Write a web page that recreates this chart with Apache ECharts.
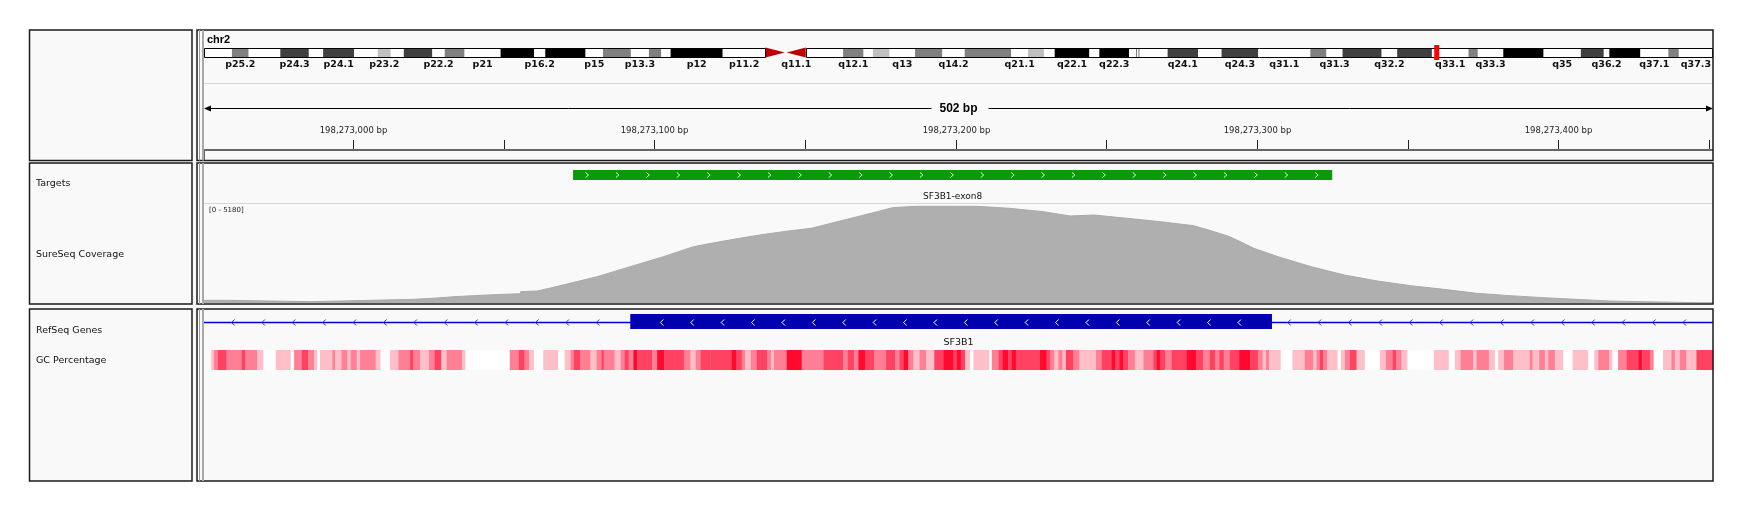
<!DOCTYPE html>
<html><head><meta charset="utf-8">
<script src="https://cdn.jsdelivr.net/npm/echarts@6/dist/echarts.min.js"></script>
<style>html,body{margin:0;padding:0;background:#fff}#c{width:1744px;height:515px}</style>
</head><body><div id="c"></div>
<script>
// ---------- data ----------
const chromName = 'chr2';
const chromLengthMb = 243.2;
const locusMb = 198.27;
// [name, startMb, endMb, stain]
const ideoBands = [
 ['p25.3',0,4.5,'gneg'],['p25.2',4.5,7.2,'gpos50'],['p25.1',7.2,12.3,'gneg'],['p24.3',12.3,16.9,'gpos75'],
 ['p24.2',16.9,19.2,'gneg'],['p24.1',19.2,24.2,'gpos75'],['p23.3',24.2,28.0,'gneg'],['p23.2',28.0,30.1,'gpos25'],
 ['p23.1',30.1,32.2,'gneg'],['p22.3',32.2,36.8,'gpos75'],['p22.2',36.8,38.8,'gneg'],['p22.1',38.8,42.0,'gpos50'],
 ['p21',42.0,47.8,'gneg'],['p16.3',47.8,53.2,'gpos100'],['p16.2',53.2,55.0,'gneg'],['p16.1',55.0,61.5,'gpos100'],
 ['p15',61.5,64.3,'gneg'],['p14',64.3,68.8,'gpos50'],['p13.3',68.8,71.7,'gneg'],['p13.2',71.7,73.7,'gpos50'],
 ['p13.1',73.7,75.2,'gneg'],['p12',75.2,83.6,'gpos100'],['p11.2',83.6,90.5,'gneg'],['p11.1',90.5,93.6,'acen'],
 ['q11.1',93.9,97.0,'acen'],['q11.2',97.0,103.0,'gneg'],['q12.1',103.0,106.3,'gpos50'],['q12.2',106.3,107.8,'gneg'],
 ['q12.3',107.8,110.5,'gpos25'],['q13',110.5,114.6,'gneg'],['q14.1',114.6,119.0,'gpos50'],['q14.2',119.0,122.6,'gneg'],
 ['q14.3',122.6,130.1,'gpos50'],['q21.1',130.1,132.8,'gneg'],['q21.2',132.8,135.4,'gpos25'],['q21.3',135.4,137.1,'gneg'],
 ['q22.1',137.1,142.7,'gpos100'],['q22.2',142.7,144.3,'gneg'],['q22.3',144.3,149.1,'gpos100'],['q23.1',149.1,150.2,'gneg'],
 ['q23.2',150.2,150.4,'gpos50'],['q23.2b',150.4,150.6,'gneg'],['q23.2c',150.6,150.8,'gpos50'],['q23.3',150.8,155.3,'gneg'],
 ['q24.1',155.3,160.2,'gpos75'],['q24.2',160.2,164.0,'gneg'],
 ['q24.3',164.0,169.9,'gpos75'],['q31.1',169.9,178.3,'gneg'],['q31.2',178.3,180.9,'gpos50'],['q31.3',180.9,183.5,'gneg'],
 ['q32.1',183.5,189.8,'gpos75'],['q32.2',189.8,192.3,'gneg'],['q32.3',192.3,197.9,'gpos75'],['q33.1',197.9,203.8,'gneg'],
 ['q33.2',203.8,205.3,'gpos50'],['q33.3',205.3,209.4,'gneg'],['q34',209.4,215.9,'gpos100'],['q35',215.9,221.9,'gneg'],
 ['q36.1',221.9,225.6,'gpos75'],['q36.2',225.6,226.5,'gneg'],['q36.3',226.5,231.5,'gpos100'],['q37.1',231.5,236.0,'gneg'],
 ['q37.2',236.0,237.7,'gpos50'],['q37.3',237.7,243.2,'gneg']
];
const ideoLabels = ['p25.2','p24.3','p24.1','p23.2','p22.2','p21','p16.2','p15','p13.3','p12','p11.2',
 'q11.1','q12.1','q13','q14.2','q21.1','q22.1','q22.3','q24.1','q24.3','q31.1','q31.3','q32.2',
 'q33.1','q33.3','q35','q36.2','q37.1','q37.3'];

const regionStart = 198272950.5;
const regionEnd = 198273451.4;
const regionLabel = '502 bp';
const rulerTicks = [198273000,198273050,198273100,198273150,198273200,198273250,198273300,198273350,198273400,198273450];
const rulerLabels = [198273000,198273100,198273200,198273300,198273400];

const trackNames = ['Targets','SureSeq Coverage','RefSeq Genes','GC Percentage'];
const targets = [[198273073,198273325,'SF3B1-exon8']];

const coverageMax = 5180;
const coverage = [
 [198272950.5,140],[198272958,140],[198272958,70],[198272986,70],[198272986,140],[198273006,140],
 [198273006,192],[198273020,192],[198273020,262],[198273028,262],[198273028,331],[198273033.5,331],
 [198273033.5,419],[198273044.5,419],[198273044.5,488],[198273055.6,488],[198273055.6,593],[198273061,628],
 [198273066,800],[198273072,1029],[198273081,1378],[198273092,1901],[198273103,2424],[198273113,2947],
 [198273120,3157],[198273128,3380],[198273135,3558],[198273144,3760],[198273152,3906],[198273163,4343],
 [198273174,4779],[198273179,4988],[198273187,5058],[198273207,5058],[198273218,4953],[198273229,4779],
 [198273238,4552],[198273246,4604],[198273257,4430],[198273268,4255],[198273279,4046],[198273285,3767],
 [198273291,3471],[198273299,2860],[198273307,2424],[198273318,1901],[198273329,1465],[198273340,1151],
 [198273351,907],[198273362,715],[198273373,506],[198273384,384],[198273395,279],[198273406,192],
 [198273417,105],[198273428,70],[198273446,17],[198273451.4,17]
];

const geneName = 'SF3B1';
const geneSpan = [198254508, 198299771];
const geneExons = [[198273092, 198273305]];

// GC percentage windows: [startOffset, endOffset, gcPercent], offsets in bp from regionStart
const gcSegments = [
[2.4,3.3,45],[3.3,4.6,55],[4.6,7.5,65],[7.5,12.5,55],[12.5,13.6,65],[13.6,17.7,55],[17.7,19.7,45],[19.7,23.8,35],[23.8,28.8,45],[28.8,29.9,35],
[29.9,32.4,55],[32.4,34.6,65],[34.6,36.5,55],[36.5,37.6,45],[37.6,38.5,35],[38.5,42.6,45],[42.6,43.5,55],[43.5,45.6,45],[45.6,47.6,55],[47.6,48.7,45],
[48.7,50.7,55],[50.7,51.8,45],[51.8,57,55],[57,58.6,45],[58.6,61.7,35],[61.7,64.5,45],[64.5,68.4,55],[68.4,69.5,65],[69.5,71.7,55],[71.7,74.7,45],
[74.7,76.5,55],[76.5,78.8,65],[78.8,80.5,45],[80.5,85.7,55],[85.7,86.8,45],[86.8,101.5,35],[101.5,104.5,55],[104.5,106.4,65],[106.4,107.9,55],[107.9,109.5,45],
[109.5,112.6,35],[112.6,117.5,45],[117.5,119.7,35],[119.7,121.7,45],[121.7,122.8,55],[122.8,124.8,65],[124.8,128.3,55],[128.3,130.3,45],[130.3,131.9,55],[131.9,132.7,65],
[132.7,136.3,55],[136.3,138.3,45],[138.3,139.6,55],[139.6,141,65],[141,142.5,55],[142.5,143.8,75],[143.8,148.8,65],[148.8,150.4,55],[150.4,152.7,75],[152.7,159.3,65],
[159.3,161.5,55],[161.5,163.2,45],[163.2,164.8,55],[164.8,168,65],
[168,175.2,65],[175.2,176.6,75],[176.6,178.5,65],[178.5,179.6,55],[179.6,181.5,45],[181.5,183.5,55],[183.5,187,65],[187,188.2,55],[188.2,189.2,45],[189.2,193.4,55],
[193.4,198.4,75],[198.4,205.6,55],[205.6,212.2,65],[212.2,213.7,55],[213.7,215.8,65],[215.8,217.2,55],[217.2,219.4,75],[219.4,222.4,65],[222.4,226.4,55],[226.4,229.4,65],
[229.4,230.8,55],[230.8,232.2,65],[232.2,233.8,75],[233.8,235.5,55],[235.5,237.5,45],[237.5,239.7,55],[239.7,242.4,45],[242.4,245.4,65],[245.4,248.8,75],[248.8,249.9,65],
[249.9,251.2,75],[251.2,252.6,65],[252.6,254.3,45],[254.3,255.4,35],[255.4,260.7,45],[260.7,261.5,35],[261.5,263.7,55],[263.7,265.1,65],[265.1,267,75],[267,268.1,65],
[268.1,269.5,75],[269.5,277.5,65],[277.5,279.7,75],[279.7,280.8,65],[280.8,282.3,55],[282.3,283.6,45],[283.6,285,55],[285,286.1,45],[286.1,288.6,65],[288.6,290.6,55],
[290.6,296.1,45],[296.1,298,55],[298,301.3,65],[301.3,302.4,75],[302.4,303.8,65],[303.8,305.2,75],[305.2,306.8,65],[306.8,309,55],[309,311.8,45],[311.8,315.1,55],
[315.1,316.2,65],[316.2,317.3,75],[317.3,319,65],[319,321.2,55],[321.2,326.2,65],[326.2,329.3,75],[329.3,331.7,65],[331.7,333.9,55],
[333.9,335.6,65],[335.6,337,55],[337,338.5,65],[338.5,340.5,55],[340.5,343.6,65],[343.6,347.2,75],[347.2,349.9,65],[349.9,351.4,55],[351.4,352.5,45],[352.5,353.6,55],
[353.6,357.4,45],[357.4,361.3,35],[361.3,365.4,45],[365.4,368.2,55],[368.2,369.3,45],[369.3,370.4,55],[370.4,371.5,65],[371.5,372.8,55],[372.8,376.3,45],[376.3,377.4,35],
[377.4,378.7,45],[378.7,380.4,55],[380.4,382.6,65],[382.6,385.3,45],[385.3,390.3,35],[390.3,392.3,45],[392.3,394.5,55],[394.5,395.8,65],[395.8,397.5,55],[397.5,399.5,45],
[399.5,408.2,35],[408.2,413.2,45],[413.2,415.2,35],[415.2,417.1,45],[417.1,421.3,55],[421.3,422.4,45],[422.4,426.5,55],[426.5,428.5,45],[428.5,429.6,35],[429.6,431.5,45],
[431.5,434.6,55],[434.6,440.1,45],[440.1,441,55],[441,443.2,45],[443.2,445.1,55],[445.1,446.2,45],[446.2,448.4,55],[448.4,451.2,45],[451.2,454.3,35],[454.3,459.5,45],
[459.5,461.5,35],[461.5,462.8,45],[462.8,466.4,55],[466.4,467.5,45],[467.5,469.4,35],[469.4,472.2,55],[472.2,476.1,65],[476.1,477.4,75],[477.4,480.1,65],[480.1,481.2,55],
[481.2,484.3,35],[484.3,487.1,45],[487.1,488.2,55],[488.2,489.9,45],[489.9,492.1,55],[492.1,495.4,45],[495.4,500.9,65]
];

// ---------- styles ----------
const stainColor = {gneg:'#ffffff', gpos25:'#c0c0c0', gpos50:'#808080', gpos75:'#404040', gpos100:'#000000'};
function gcColor(v){ if(v<40) return '#ffffff'; if(v<50) return '#ffbfc8'; if(v<60) return '#ff8094'; if(v<70) return '#ff4262'; return '#ff0a2e'; }
const DL = 204, DW = 1509;
const FONT = '"DejaVu Sans", sans-serif';

const chart = echarts.init(document.getElementById('c'), null, {renderer:'canvas', width:1744, height:515});

const grids = [
  {left:DL, width:DW, top:48, height:9},
  {left:DL, width:DW, top:100, height:50},
  {left:DL, width:DW, top:170, height:10},
  {left:DL, width:DW, top:204, height:99},
  {left:DL, width:DW, top:314, height:15},
  {left:DL, width:DW, top:350, height:20}
];
const xAxes = grids.map((g,i)=> i===0
  ? {gridIndex:0, type:'value', min:0, max:chromLengthMb, show:false}
  : {gridIndex:i, type:'value', min:regionStart, max:regionEnd, show:false});
const yAxes = grids.map((g,i)=> ({gridIndex:i, type:'value', min:0, max: i===3 ? coverageMax : 1, show:false}));

const pEnd = ideoBands.find(b=>b[3]==='acen')[1];
const qStart = ideoBands.filter(b=>b[3]==='acen').slice(-1)[0][2];

const series = [];
// ideogram bands
series.push({type:'custom', xAxisIndex:0, yAxisIndex:0, clip:false, silent:true, z:3,
  data: ideoBands.map(b=>[b[1],b[2]]),
  renderItem:(p,api)=>{
    const b = ideoBands[p.dataIndex];
    const a = api.coord([api.value(0),1]), c = api.coord([api.value(1),0]);
    const x0=a[0], x1=c[0], y0=a[1], y1=c[1], ym=(y0+y1)/2;
    const ch=[];
    if(b[3]==='acen'){
      const pts = b[0][0]==='p' ? [[x0,y0-0.5],[x0,y1+0.5],[x1,ym]] : [[x1,y0-0.5],[x1,y1+0.5],[x0,ym]];
      ch.push({type:'polygon', shape:{points:pts}, style:{fill:'#c00000'}});
    } else {
      ch.push({type:'rect', shape:{x:x0,y:y0,width:x1-x0,height:y1-y0}, style:{fill:stainColor[b[3]]}});
    }
    if(ideoLabels.indexOf(b[0])>=0){
      ch.push({type:'text', style:{text:b[0], x:(x0+x1)/2, y:y1+7.5, align:'center', verticalAlign:'middle', font:'bold 9.5px '+FONT, fill:'#111'}});
    }
    return {type:'group', children:ch};
  }});
// ideogram outline (p arm, q arm)
series.push({type:'custom', xAxisIndex:0, yAxisIndex:0, clip:false, silent:true, z:4,
  data:[[0,pEnd],[qStart,chromLengthMb]],
  renderItem:(p,api)=>{
    const a = api.coord([api.value(0),1]), c = api.coord([api.value(1),0]);
    return {type:'rect', shape:{x:Math.round(a[0])+0.5,y:Math.round(a[1])+0.5,width:Math.round(c[0]-a[0])-1,height:Math.round(c[1]-a[1])}, style:{fill:null, stroke:'#000', lineWidth:1}};
  }});
// current locus marker
series.push({type:'custom', xAxisIndex:0, yAxisIndex:0, clip:false, silent:true, z:5,
  data:[[locusMb]],
  renderItem:(p,api)=>{
    const a = api.coord([api.value(0),1]), c = api.coord([api.value(0),0]);
    return {type:'rect', shape:{x:a[0],y:a[1]-3,width:5,height:c[1]-a[1]+6}, style:{fill:'#ff0000'}};
  }});
// ruler ticks + labels
series.push({type:'custom', xAxisIndex:1, yAxisIndex:1, clip:false, silent:true,
  data: rulerTicks.map(v=>[v]),
  renderItem:(p,api)=>{
    const v = api.value(0);
    const x = Math.round(api.coord([v,0])[0])+0.5;
    const bottom = p.coordSys.y + p.coordSys.height;
    const ch=[{type:'line', shape:{x1:x,y1:bottom-10,x2:x,y2:bottom-1}, style:{stroke:'#222', lineWidth:1}}];
    if(rulerLabels.indexOf(v)>=0){
      ch.push({type:'text', style:{text:v.toLocaleString('en-US')+' bp', x:x, y:bottom-19, align:'center', verticalAlign:'middle', font:'8.5px '+FONT, fill:'#222'}});
    }
    return {type:'group', children:ch};
  }});
// region span line with arrows
series.push({type:'custom', xAxisIndex:1, yAxisIndex:1, clip:false, silent:true,
  data:[[regionStart, regionEnd]],
  renderItem:(p,api)=>{
    const x0 = api.coord([api.value(0),0])[0], x1 = api.coord([api.value(1),0])[0];
    const y = p.coordSys.y + 8.5, xc=(x0+x1)/2;
    return {type:'group', children:[
      {type:'line', shape:{x1:x0+2,y1:y,x2:xc-27,y2:y}, style:{stroke:'#000', lineWidth:1}},
      {type:'line', shape:{x1:xc+30,y1:y,x2:x1-2,y2:y}, style:{stroke:'#000', lineWidth:1}},
      {type:'polygon', shape:{points:[[x0,y],[x0+7,y-3],[x0+7,y+3]]}, style:{fill:'#000'}},
      {type:'polygon', shape:{points:[[x1,y],[x1-7,y-3],[x1-7,y+3]]}, style:{fill:'#000'}},
      {type:'text', style:{text:regionLabel, x:xc, y:y, align:'center', verticalAlign:'middle', font:'bold 12px "Liberation Sans", sans-serif', fill:'#000'}}
    ]};
  }});
// targets
series.push({type:'custom', xAxisIndex:2, yAxisIndex:2, clip:false, silent:true,
  data: targets.map(t=>[t[0],t[1]]),
  renderItem:(p,api)=>{
    const cs=p.coordSys;
    const a = api.coord([api.value(0),0])[0], b = api.coord([api.value(1),0])[0];
    const ym = cs.y + cs.height/2;
    const ch=[{type:'rect', shape:{x:a,y:cs.y,width:b-a,height:cs.height}, style:{fill:'#0c9a0c'}}];
    for(let x=a+14; x<b-8; x+=30.4){
      ch.push({type:'polyline', shape:{points:[[x-1.5,ym-2.5],[x+1.5,ym],[x-1.5,ym+2.5]]}, style:{stroke:'#d8f5d8', lineWidth:1, fill:null}});
    }
    ch.push({type:'text', style:{text:targets[p.dataIndex][2], x:(a+b)/2, y:cs.y+cs.height+17, align:'center', verticalAlign:'middle', font:'9px '+FONT, fill:'#111'}});
    return {type:'group', children:ch};
  }});
// coverage
series.push({type:'line', xAxisIndex:3, yAxisIndex:3, data:coverage, showSymbol:false, silent:true,
  lineStyle:{color:'#a9a9a9', width:1}, areaStyle:{color:'#afafaf', opacity:1}});
// gene
series.push({type:'custom', xAxisIndex:4, yAxisIndex:4, clip:false, silent:true,
  data:[[geneSpan[0], geneSpan[1]]],
  renderItem:(p,api)=>{
    const cs=p.coordSys;
    const xa = Math.max(api.coord([api.value(0),0])[0], cs.x);
    const xb = Math.min(api.coord([api.value(1),0])[0], cs.x+cs.width);
    const ym = Math.round(cs.y + cs.height/2)+0.5;
    const ch=[{type:'line', shape:{x1:xa,y1:ym,x2:xb,y2:ym}, style:{stroke:'#0000cc', lineWidth:1.3}}];
    const chev=(x,col)=>({type:'polyline', shape:{points:[[x+1.5,ym-3],[x-1.5,ym],[x+1.5,ym+3]]}, style:{stroke:col, lineWidth:1, fill:null}});
    const ex = geneExons.map(e=>[api.coord([e[0],0])[0], api.coord([e[1],0])[0]]);
    let start = xa+29;
    ex.forEach(([a,b])=>{
      for(let x=start; x<a-8; x+=30.4) ch.push(chev(x,'#2a2aff'));
      ch.push({type:'rect', shape:{x:a,y:cs.y,width:b-a,height:cs.height}, style:{fill:'#0000b0'}});
      for(let x=a+31.6; x<b-8; x+=30.4) ch.push(chev(x,'#ffffff'));
      start = b+17.3;
    });
    for(let x=start; x<xb-5; x+=30.4) ch.push(chev(x,'#2a2aff'));
    ch.push({type:'text', style:{text:geneName, x:(xa+xb)/2, y:cs.y+cs.height+14, align:'center', verticalAlign:'middle', font:'9.5px '+FONT, fill:'#111'}});
    return {type:'group', children:ch};
  }});
// GC percentage heat strip
series.push({type:'custom', xAxisIndex:5, yAxisIndex:5, clip:false, silent:true,
  data: gcSegments.map(s=>[regionStart+s[0], regionStart+s[1], s[2]]),
  renderItem:(p,api)=>{
    const cs=p.coordSys;
    const a = api.coord([api.value(0),0])[0], b = api.coord([api.value(1),0])[0];
    return {type:'rect', shape:{x:a,y:cs.y,width:b-a+0.3,height:cs.height}, style:{fill:gcColor(api.value(2))}};
  }});

// ---------- frame ----------
const rows = [[30,160.5],[163,304],[309,481]];
const gr = [{type:'rect', z:-10, shape:{x:29,y:30,width:1684,height:451}, style:{fill:'#f9f9f9'}}];
rows.forEach(([y0,y1])=>{
  gr.push({type:'rect', z:50, shape:{x:29.5,y:y0,width:162.5,height:y1-y0}, style:{fill:null, stroke:'#1a1a1a', lineWidth:1.5}});
  gr.push({type:'rect', z:50, shape:{x:197,y:y0,width:1516,height:y1-y0}, style:{fill:null, stroke:'#1a1a1a', lineWidth:1.5}});
  gr.push({type:'line', z:50, shape:{x1:199.5,y1:y0,x2:199.5,y2:y1}, style:{stroke:'#9a9a9a', lineWidth:1}});
  gr.push({type:'line', z:50, shape:{x1:203,y1:y0,x2:203,y2:y1}, style:{stroke:'#a8a8a8', lineWidth:2}});
});
gr.push({type:'line', z:40, shape:{x1:204,y1:83.5,x2:1713,y2:83.5}, style:{stroke:'#d6d6de', lineWidth:1}});
gr.push({type:'line', z:40, shape:{x1:204,y1:203.5,x2:1713,y2:203.5}, style:{stroke:'#d6d6de', lineWidth:1}});
gr.push({type:'line', z:40, shape:{x1:204,y1:150,x2:1713,y2:150}, style:{stroke:'#666', lineWidth:2}});
gr.push({type:'line', z:40, shape:{x1:204.5,y1:150,x2:204.5,y2:160}, style:{stroke:'#666', lineWidth:1}});
gr.push({type:'text', z:60, style:{text:chromName, x:207, y:40, verticalAlign:'middle', font:'bold 11px "Liberation Sans", sans-serif', fill:'#000'}});
gr.push({type:'text', z:60, style:{text:'[0 - '+coverageMax+']', x:209, y:210, verticalAlign:'middle', font:'7px '+FONT, fill:'#222'}});
const nameY = [184, 255, 331, 361];
trackNames.forEach((n,i)=> gr.push({type:'text', z:60, style:{text:n, x:36, y:nameY[i], verticalAlign:'middle', font:'9.5px '+FONT, fill:'#111'}}));

chart.setOption({
  animation:false,
  backgroundColor:'#ffffff',
  grid:grids, xAxis:xAxes, yAxis:yAxes,
  series:series,
  graphic:{elements:gr}
});
</script></body></html>
